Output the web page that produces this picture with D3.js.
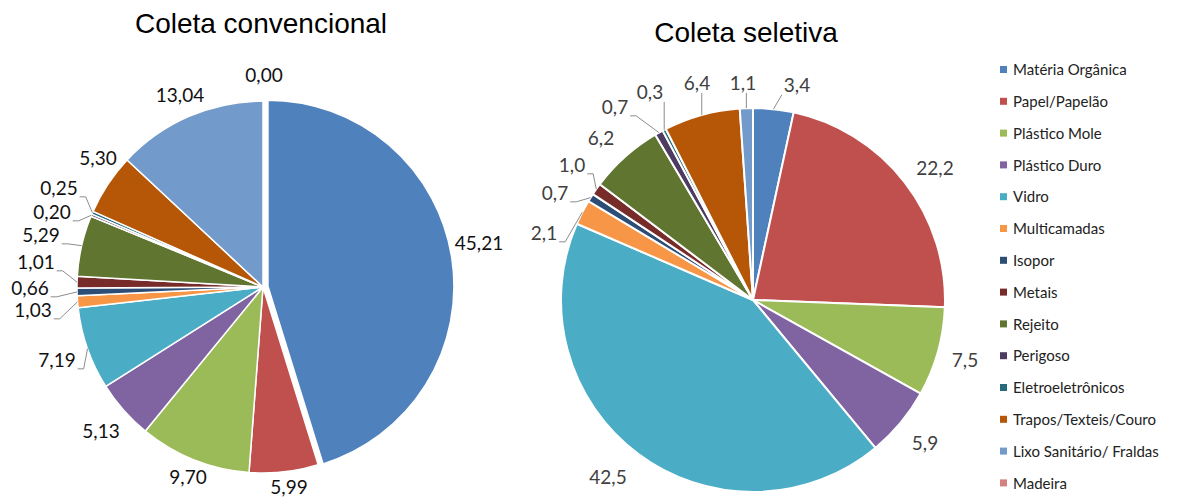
<!DOCTYPE html>
<html>
<head>
<meta charset="utf-8">
<script src="https://cdn.jsdelivr.net/npm/d3@7"></script>
<style>
  html, body { margin: 0; padding: 0; background: #fff; }
  svg { display: block; }
</style>
</head>
<body>
<svg id="chart" width="1187" height="498"></svg>
<script>
// Waste categories (legend order = slice order, clockwise from 12 o'clock)
const categories = [
  "Matéria Orgânica", "Papel/Papelão", "Plástico Mole", "Plástico Duro", "Vidro",
  "Multicamadas", "Isopor", "Metais", "Rejeito", "Perigoso", "Eletroeletrônicos",
  "Trapos/Texteis/Couro", "Lixo Sanitário/ Fraldas", "Madeira"
];

// Composition (%) of the conventional collection
const convencional = [45.21, 5.99, 9.70, 5.13, 7.19, 1.03, 0.66, 1.01, 5.29, 0.20, 0.25, 5.30, 13.04, 0.00];

// Composition (%) of the selective collection
const seletiva = [3.4, 22.2, 7.5, 5.9, 42.5, 2.1, 0.7, 1.0, 6.2, 0.7, 0.3, 6.4, 1.1, 0.0];

const titles = ["Coleta convencional", "Coleta seletiva"];

const colors = [
  "#4F81BD", "#C0504D", "#9BBB59", "#8064A2", "#4BACC6", "#F79646", "#2C4D75",
  "#772C2A", "#5F7530", "#4D3B62", "#276A7C", "#B65708", "#729ACA", "#D3807E"
];

// Label placement (offsets from each pie centre) and leader-line flags
const labelLayoutLeft = [
  [216, -44], [26, 200], [-75, 190], [-162, 144], [-206, 73], [-230, 23], [-233, 1],
  [-227, -25], [-222, -52], [-211, -75], [-204, -99], [-165, -129], [-83, -192], [1, -212]
];
const leadersLeft = [0, 0, 0, 0, 1, 1, 1, 1, 1, 1, 1, 0, 0, 0];

const labelLayoutRight = [
  [44, -215], [182, -132], [212, 60], [172, 143], [-145, 177], [-209, -67], [-198, -107],
  [-181, -135], [-152, -162], [-138, -193], [-103, -208], [-56, -217], [-10, -217], [0, 0]
];
const leadersRight = [1, 0, 0, 0, 0, 1, 1, 1, 0, 1, 1, 1, 1, 0];

const svg = d3.select("#chart");
const fmt2 = v => d3.format(".2f")(v).replace(".", ",");
const fmt1 = v => d3.format(".1f")(v).replace(".", ",");

const color = d3.scaleOrdinal().domain(categories).range(colors);

function drawPie(cfg) {
  const data = categories.map((c, i) => ({ cat: c, value: cfg.values[i], i }));
  const pie = d3.pie().sort(null).value(d => d.value).startAngle(0).endAngle(2 * Math.PI);
  const arcs = pie(data);
  const arc = d3.arc().innerRadius(0).outerRadius(cfg.r);

  const g = svg.append("g").attr("transform", `translate(${cfg.cx},${cfg.cy})`);

  g.selectAll("path.slice")
    .data(arcs.filter(a => a.data.value > 0))
    .join("path")
    .attr("class", "slice")
    .attr("d", arc)
    .attr("fill", d => color(d.data.cat))
    .attr("stroke", "#fff")
    .attr("stroke-width", cfg.strokeW)
    .attr("stroke-linejoin", "round")
    .attr("transform", d => {
      if (d.index !== cfg.explode) return null;
      const m = (d.startAngle + d.endAngle) / 2;
      return `translate(${cfg.explodeBy * Math.sin(m)},${-cfg.explodeBy * Math.cos(m)})`;
    });

  // Data labels
  const lab = g.selectAll("g.lab")
    .data(arcs.filter(a => cfg.showZero || a.data.value > 0))
    .join("g")
    .attr("class", "lab");

  lab.append("text")
    .attr("x", d => cfg.layout[d.index][0])
    .attr("y", d => cfg.layout[d.index][1])
    .attr("dy", "0.36em")
    .attr("text-anchor", "middle")
    .attr("font-family", "Lato, 'Open Sans', sans-serif")
    .attr("font-size", 19)
    .attr("fill", cfg.labelColor)
    .text(d => cfg.format(d.data.value));

  // Leader lines from label to the slice's outer edge
  lab.each(function (d) {
    if (!cfg.leaders[d.index]) return;
    const t = d3.select(this).select("text").node().getBBox();
    const m = (d.startAngle + d.endAngle) / 2;
    const ax = cfg.r * Math.sin(m), ay = -cfg.r * Math.cos(m);
    const left = t.x, right = t.x + t.width, bottom = t.y + t.height - 2;
    let pts;
    if (ay > bottom + 4 && ax >= left - 12 && ax <= right + 4) {
      const sx = Math.max(left - 2, Math.min(right + 1, ax));
      pts = [[sx, bottom + 1], [ax, ay]];
    } else {
      const sx = right + 2, sy = bottom;
      pts = [[sx, sy], [sx + 6, sy], [ax, ay]];
    }
    d3.select(this).append("path")
      .attr("d", d3.line()(pts))
      .attr("fill", "none")
      .attr("stroke", "#8c8c8c")
      .attr("stroke-width", 1);
  });

  svg.append("text")
    .attr("x", cfg.titleX)
    .attr("y", cfg.titleY)
    .attr("text-anchor", "middle")
    .attr("font-family", "'Liberation Sans', Arial, sans-serif")
    .attr("font-size", 28)
    .attr("fill", "#000")
    .text(cfg.title);
}

drawPie({
  values: convencional, cx: 263, cy: 287, r: 186, strokeW: 1.5,
  explode: 0, explodeBy: 5, layout: labelLayoutLeft, leaders: leadersLeft,
  format: fmt2, showZero: true, labelColor: "#111",
  title: titles[0], titleX: 261, titleY: 33
});

drawPie({
  values: seletiva, cx: 753, cy: 300, r: 192, strokeW: 2,
  explode: -1, explodeBy: 0, layout: labelLayoutRight, leaders: leadersRight,
  format: fmt1, showZero: false, labelColor: "#404040",
  title: titles[1], titleX: 746, titleY: 42
});

// Legend
const legend = svg.append("g").attr("transform", "translate(1000,70)");
const rowH = 31.8;
const item = legend.selectAll("g.item")
  .data(categories)
  .join("g")
  .attr("class", "item")
  .attr("transform", (d, i) => `translate(0,${i * rowH})`);
item.append("rect")
  .attr("x", 0).attr("y", -4)
  .attr("width", 7).attr("height", 7)
  .attr("fill", d => color(d));
item.append("text")
  .attr("x", 13).attr("y", 0)
  .attr("dy", "0.35em")
  .attr("font-family", "Lato, 'Open Sans', sans-serif")
  .attr("font-size", 15)
  .attr("fill", "#222")
  .text(d => d);
</script>
</body>
</html>
